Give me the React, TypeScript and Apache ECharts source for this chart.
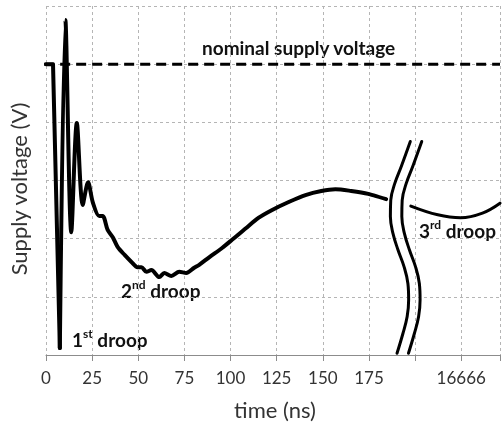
import React, { useEffect, useRef } from "react";
import * as echarts from "echarts";

// time (ns) tick labels: 200 is the break, 225 stands for 16666 ns
const tickLabels: Record<number, string> = {
  0: "0", 25: "25", 50: "50", 75: "75", 100: "100",
  125: "125", 150: "150", 175: "175", 225: "16666",
};

const nominalVoltage = 5;
const nominalLine = [[-1, nominalVoltage], [246, nominalVoltage]];

// step away from nominal into the first droop (straight edge)
const droopStep = [[0, 5.0], [3.8, 5.0], [7.5, 0.12]];

// ringing + second droop (t, V in grid units)
const droopCurve = [
  [7.5, 0.12], [10.5, 5.76], [13.7, 2.11], [16.7, 3.99],
  [19.9, 2.58], [22.8, 2.97], [25.4, 2.62], [28.8, 2.39], [30.7, 2.39], [33.4, 2.15],
  [36.1, 2.03], [38.8, 1.86], [42.6, 1.72], [46.3, 1.6], [49.6, 1.51], [51.7, 1.51],
  [54.4, 1.43], [57.1, 1.46], [61.4, 1.34], [64.1, 1.41], [67.9, 1.36], [72.2, 1.43],
  [76.0, 1.41], [80.3, 1.5], [83.0, 1.55], [88.4, 1.68], [95.4, 1.84], [100.8, 1.98],
  [108.3, 2.18], [115.3, 2.36], [122.3, 2.49], [131.5, 2.63], [140.6, 2.75],
  [149.2, 2.82], [156.8, 2.85], [165.4, 2.82], [174.6, 2.77], [184.3, 2.68],
];

// third droop (after the axis break)
const thirdDroop = [
  [197.7, 2.56], [212.3, 2.41], [224.7, 2.36], [236.5, 2.44], [246, 2.61],
];

// axis break marks (two S-shaped strokes)
const breakLeft = [
  [197.4, 3.67], [192.5, 3.24], [189.0, 2.95], [186.8, 2.66], [186.6, 2.38],
  [188.0, 2.09], [190.7, 1.81], [194.0, 1.52], [196.1, 1.23], [196.5, 0.95],
  [195.7, 0.66], [193.4, 0.37], [190.2, 0.03],
];
const breakRight = breakLeft.map(([t, v]) => [t + 6.2, v]);

const FONT = "Lato, 'Open Sans', sans-serif";

export default function App() {
  const ref = useRef<HTMLDivElement>(null);
  useEffect(() => {
    if (!ref.current) return;
    const chart = echarts.init(ref.current, undefined, { renderer: "svg" });
    const richDroop = (n: string, sup: string) => ({
      text: `{a|${n}}{s|${sup}}{a| droop}`,
      rich: {
        a: { fontFamily: FONT, fontWeight: "bold", fontSize: 19, fill: "#111", lineHeight: 23 },
        s: { fontFamily: FONT, fontWeight: "bold", fontSize: 12, fill: "#111", verticalAlign: "top", lineHeight: 23, padding: [0, 0, 8, 0] },
      },
      verticalAlign: "middle",
    });
    const strokeSeries = (data: number[][], width: number, smooth: number | false) => ({
      type: "line",
      data,
      symbol: "none",
      smooth,
      lineStyle: { color: "#000", width, cap: "round", join: "round" },
      z: 3,
    });
    chart.setOption({
      animation: false,
      grid: { left: 46, right: 0, top: 6, bottom: 69, containLabel: false },
      xAxis: {
        type: "value",
        min: 0,
        max: 246,
        interval: 25,
        axisLine: { show: true, onZero: false, lineStyle: { color: "#8c8c8c", width: 1 } },
        axisTick: { show: true, length: 6, lineStyle: { color: "#8c8c8c" } },
        axisLabel: {
          margin: 14,
          fontFamily: FONT,
          fontSize: 17,
          color: "#333",
          formatter: (v: number) => tickLabels[Math.round(v)] ?? "",
          showMaxLabel: true,
        },
        splitLine: { show: true, lineStyle: { type: [3, 3], color: "#b5b5b5", width: 1 } },
      },
      yAxis: {
        type: "value",
        min: 0,
        max: 6,
        interval: 1,
        axisLine: { show: false },
        axisTick: { show: false },
        axisLabel: { show: false },
        splitLine: { show: true, lineStyle: { type: [3, 3], color: "#b5b5b5", width: 1 } },
      },
      series: [
        {
          type: "line",
          data: nominalLine,
          symbol: "none",
          lineStyle: { color: "#000", width: 3, type: [10, 6] },
          z: 2,
        },
        strokeSeries(droopStep, 4, false),
        strokeSeries(droopCurve, 4, 0.3),
        strokeSeries(thirdDroop, 3, 0.4),
        strokeSeries(breakLeft, 3, 0.4),
        strokeSeries(breakRight, 3, 0.4),
      ],
      graphic: [
        {
          type: "text",
          x: 18,
          y: 189,
          rotation: Math.PI / 2,
          style: {
            text: "Supply voltage (V)",
            fontFamily: FONT,
            fontSize: 22,
            fill: "#333",
            align: "center",
            verticalAlign: "middle",
          },
        },
        {
          type: "text",
          x: 275,
          y: 409,
          style: {
            text: "time (ns)",
            fontFamily: FONT,
            fontSize: 22,
            fill: "#333",
            align: "center",
            verticalAlign: "middle",
          },
        },
        {
          type: "text",
          x: 202,
          y: 47,
          style: {
            text: "nominal supply voltage",
            fontFamily: FONT,
            fontWeight: "bold",
            fontSize: 19,
            fill: "#111",
            align: "left",
            verticalAlign: "middle",
          },
        },
        { type: "text", x: 72, y: 339, style: richDroop("1", "st") },
        { type: "text", x: 121, y: 290, style: richDroop("2", "nd") },
        { type: "text", x: 419, y: 230, style: richDroop("3", "rd") },
      ],
    });
    return () => chart.dispose();
  }, []);
  return (
    <div
      ref={ref}
      style={{ position: "fixed", left: 0, top: 0, width: 503, height: 424 }}
    />
  );
}
